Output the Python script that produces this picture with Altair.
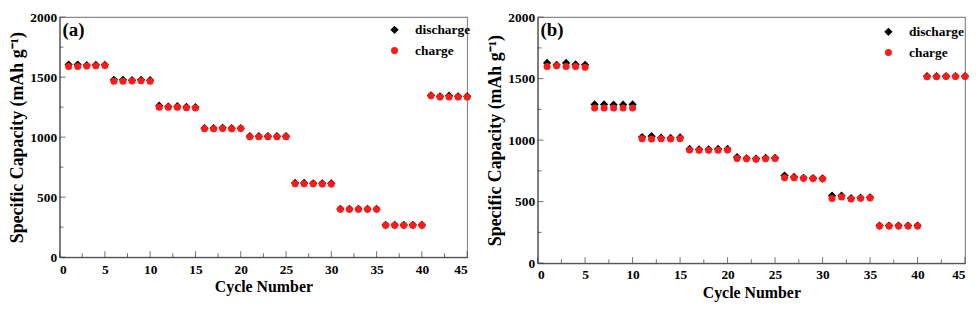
import altair as alt
import pandas as pd

cycles = list(range(1, 46))

a_discharge = [1605, 1605, 1600, 1603, 1603,
               1478, 1478, 1475, 1478, 1475,
               1262, 1255, 1258, 1252, 1250,
               1075, 1075, 1078, 1075, 1075,
               1008, 1008, 1008, 1008, 1008,
               618, 618, 615, 615, 615,
               402, 402, 402, 402, 402,
               268, 268, 268, 268, 268,
               1348, 1340, 1345, 1340, 1340]
a_charge = [1588, 1588, 1592, 1595, 1598,
            1465, 1465, 1468, 1470, 1465,
            1250, 1250, 1250, 1245, 1242,
            1070, 1070, 1072, 1070, 1072,
            1003, 1003, 1003, 1003, 1003,
            612, 612, 612, 610, 610,
            400, 400, 400, 400, 400,
            265, 265, 265, 265, 265,
            1345, 1335, 1335, 1335, 1335]

b_discharge = [1628, 1612, 1628, 1615, 1612,
               1290, 1290, 1288, 1288, 1290,
               1025, 1032, 1020, 1018, 1022,
               928, 925, 925, 928, 928,
               862, 852, 850, 855, 855,
               712, 700, 692, 690, 688,
               548, 548, 528, 532, 535,
               305, 305, 305, 305, 305,
               1520, 1520, 1520, 1520, 1520]
b_charge = [1598, 1605, 1598, 1598, 1592,
            1262, 1262, 1262, 1262, 1262,
            1012, 1010, 1012, 1010, 1012,
            920, 918, 918, 918, 920,
            850, 848, 845, 848, 850,
            695, 695, 690, 688, 685,
            525, 538, 522, 528, 530,
            302, 302, 302, 302, 302,
            1515, 1515, 1518, 1518, 1518]

series = ["discharge", "charge"]
series_colors = ["#000000", "#ff1a1a"]
series_shapes = ["diamond", "circle"]
series_sizes = [70, 50]

x_major = [0, 5, 10, 15, 20, 25, 30, 35, 40, 45]
x_minor = [2.5, 7.5, 12.5, 17.5, 22.5, 27.5, 32.5, 37.5, 42.5]
y_major = [0, 500, 1000, 1500, 2000]
y_minor = [250, 750, 1250, 1750]

FONT = "Liberation Serif"
Y_TITLE = "Specific Capacity (mAh g\u207b\u00b9)"


def panel(dis, chg, letter, w, h, lx, ly):
    df = pd.DataFrame({
        "cycle": cycles + cycles,
        "cap": dis + chg,
        "series": [series[0]] * len(cycles) + [series[1]] * len(cycles),
        "ord": [0] * len(cycles) + [1] * len(cycles),
    })
    xs = alt.Scale(domain=[0, 45], nice=False, zero=False)
    ys = alt.Scale(domain=[0, 2000], nice=False)
    xax = alt.Axis(values=x_major, title="Cycle Number", ticks=False,
                   labelPadding=5, titlePadding=3, format="d", titleFontSize=16)
    yax = alt.Axis(values=y_major, title=Y_TITLE, ticks=False,
                   labelPadding=3, titlePadding=3, format="d", titleFontSize=18)
    points = alt.Chart(df).mark_point(filled=True, opacity=1, strokeWidth=0).encode(
        x=alt.X("cycle:Q", scale=xs, axis=xax),
        y=alt.Y("cap:Q", scale=ys, axis=yax),
        color=alt.Color("series:N", scale=alt.Scale(domain=series, range=series_colors),
                        legend=alt.Legend(orient="none", legendX=lx, legendY=ly, title=None)),
        shape=alt.Shape("series:N", scale=alt.Scale(domain=series, range=series_shapes)),
        size=alt.Size("series:N", scale=alt.Scale(domain=series, range=series_sizes)),
        order=alt.Order("ord:Q"),
    )
    xmaj = alt.Chart(pd.DataFrame({"cycle": x_major})).mark_tick(
        orient="vertical", color="#333", thickness=1, size=6).encode(
        x=alt.X("cycle:Q", scale=xs, axis=xax), y=alt.value(h - 3))
    xmin = alt.Chart(pd.DataFrame({"cycle": x_minor})).mark_tick(
        orient="vertical", color="#333", thickness=1, size=4).encode(
        x=alt.X("cycle:Q", scale=xs, axis=xax), y=alt.value(h - 2))
    ymaj = alt.Chart(pd.DataFrame({"cap": y_major})).mark_tick(
        orient="horizontal", color="#333", thickness=1, size=6).encode(
        y=alt.Y("cap:Q", scale=ys, axis=yax), x=alt.value(3))
    ymin = alt.Chart(pd.DataFrame({"cap": y_minor})).mark_tick(
        orient="horizontal", color="#333", thickness=1, size=4).encode(
        y=alt.Y("cap:Q", scale=ys, axis=yax), x=alt.value(2))
    lab = alt.Chart(pd.DataFrame({"l": [letter]})).mark_text(
        font=FONT, fontSize=19, fontWeight="bold", align="left", baseline="top").encode(
        text="l:N", x=alt.value(3), y=alt.value(4))
    return alt.layer(points, xmaj, xmin, ymaj, ymin, lab).properties(width=w, height=h)


pa = panel(a_discharge, a_charge, "(a)", 411, 242, 331, 6)
pb = panel(b_discharge, b_charge, "(b)", 431, 248, 347, 8)

chart = alt.hconcat(pa, pb, spacing=14).resolve_scale(
    color="independent", shape="independent", size="independent"
).configure_view(stroke="#8a8a8a", strokeWidth=1.2).configure_axis(
    domainColor="#555", domainWidth=1.2, grid=False,
    labelFont=FONT, labelFontSize=13.5, labelFontWeight="bold", labelColor="#000",
    titleFont=FONT, titleFontWeight="bold", titleColor="#000",
).configure_legend(
    labelFont=FONT, labelFontSize=13.5, labelFontWeight="bold", labelColor="#000",
    labelOffset=14, rowPadding=6, padding=0, symbolStrokeWidth=0,
).properties(padding={"left": 0, "top": 0, "right": 0, "bottom": 0})

chart.save("out.html", embed_options={"renderer": "svg", "actions": False})
